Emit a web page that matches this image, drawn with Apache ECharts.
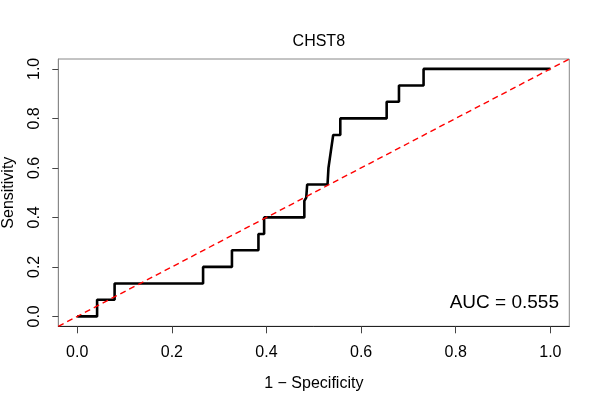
<!DOCTYPE html>
<html>
<head>
<meta charset="utf-8">
<script src="https://cdn.jsdelivr.net/npm/echarts@6/dist/echarts.min.js"></script>
<style>html,body{margin:0;padding:0;background:#fff}#c{width:600px;height:400px}</style>
</head>
<body>
<div id="c"></div>
<script>
const titleText = "CHST8";
const xAxisTitle = "1 \u2212 Specificity";
const yAxisTitle = "Sensitivity";
const aucLabel = "AUC = 0.555";
const tickValues = [0, 0.2, 0.4, 0.6, 0.8, 1.0];
// ROC curve points: 1 - specificity, sensitivity
const fpr = [0, 0.042, 0.042, 0.079, 0.079, 0.266, 0.266, 0.327, 0.327, 0.383, 0.383, 0.395, 0.395, 0.480, 0.480, 0.484, 0.484, 0.486, 0.486, 0.529, 0.531, 0.534, 0.536, 0.540, 0.541, 0.556, 0.556, 0.654, 0.654, 0.680, 0.680, 0.732, 0.732, 1.0];
const tpr = [0, 0, 0.067, 0.067, 0.133, 0.133, 0.2, 0.2, 0.267, 0.267, 0.333, 0.333, 0.4, 0.4, 0.467, 0.467, 0.48, 0.48, 0.533, 0.533, 0.6, 0.6, 0.667, 0.667, 0.733, 0.733, 0.8, 0.8, 0.867, 0.867, 0.933, 0.933, 1.0, 1.0];
const diagX = [-0.04, 1.04];
const diagY = [-0.04, 1.04];

const font = '"Liberation Sans", Arial, Helvetica, sans-serif';
const chart = echarts.init(document.getElementById('c'), null, {renderer: 'canvas'});
const rocData = fpr.map((x, i) => [x, tpr[i]]);
const diagData = diagX.map((x, i) => [x, diagY[i]]);

chart.setOption({
  animation: false,
  backgroundColor: '#ffffff',
  title: {
    text: titleText, left: 313.8, top: 29, textAlign: 'center',
    textStyle: {fontFamily: font, fontSize: 16, fontWeight: 'normal', color: '#000'}
  },
  grid: {left: 58.3, right: 30.7, top: 59, bottom: 73.7, containLabel: false, outerBoundsMode: 'none', show: true, borderColor: '#888', borderWidth: 1, backgroundColor: 'transparent'},
  xAxis: {
    type: 'value', min: -0.04, max: 1.04,
    name: xAxisTitle, nameLocation: 'middle', nameGap: 49,
    nameTextStyle: {fontFamily: font, fontSize: 16, color: '#000'},
    axisLine: {show: true, onZero: false, lineStyle: {color: '#222', width: 1}},
    axisTick: {show: true, length: 7, customValues: tickValues, lineStyle: {color: '#444'}},
    axisLabel: {customValues: tickValues, margin: 18, fontFamily: font, fontSize: 16, color: '#000', formatter: v => v.toFixed(1)},
    splitLine: {show: false}
  },
  yAxis: {
    type: 'value', min: -0.04, max: 1.04,
    name: yAxisTitle, nameLocation: 'middle', nameGap: 42,
    nameTextStyle: {fontFamily: font, fontSize: 16, color: '#000'},
    axisLine: {show: true, onZero: false, lineStyle: {color: '#888', width: 1}},
    axisTick: {show: true, length: 6, customValues: tickValues, lineStyle: {color: '#444'}},
    axisLabel: {customValues: tickValues, rotate: 90, margin: 16, fontFamily: font, fontSize: 16, color: '#000', formatter: v => v.toFixed(1)},
    splitLine: {show: false}
  },
  graphic: [{
    type: 'text', right: 41, top: 293,
    style: {text: aucLabel, font: '19px ' + font, fill: '#000'}
  }],
  series: [
    {type: 'line', data: rocData, showSymbol: false, lineStyle: {color: '#000', width: 2.6}, clip: true, z: 2},
    {type: 'line', data: diagData, showSymbol: false, lineStyle: {color: '#ff0000', width: 1.4, type: [6, 4]}, clip: true, z: 3}
  ]
});
</script>
</body>
</html>
